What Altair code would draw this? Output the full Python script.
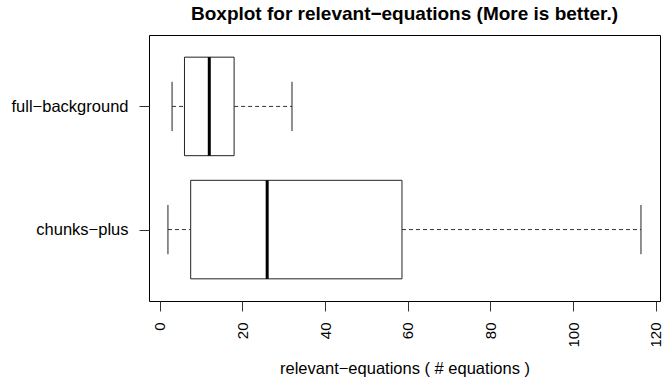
import altair as alt
import pandas as pd

# Five-number summaries per group (values in # equations)
groups = ["full−background", "chunks−plus"]
whisker_low = [3, 2]
q1 = [6, 7.5]
median = [12, 26]
q3 = [18, 58.6]
whisker_high = [32, 116.4]

n = len(groups)
df = pd.DataFrame({
    "group": groups,
    "pos": [n - i for i in range(n)],
    "lo": whisker_low,
    "q1": q1,
    "med": median,
    "q3": q3,
    "hi": whisker_high,
})
df["box_bottom"] = df["pos"] - 0.4
df["box_top"] = df["pos"] + 0.4
df["cap_bottom"] = df["pos"] - 0.2
df["cap_top"] = df["pos"] + 0.2

label_map = " : ".join(
    f"datum.value == {n - i} ? '{g}'" for i, g in enumerate(groups)
) + " : ''"

FONT = "Liberation Sans"

x_scale = alt.Scale(domain=[-2.58, 121.0], nice=False, zero=False)
y_scale = alt.Scale(domain=[0.42, 2.58], nice=False, zero=False)

x_axis = alt.Axis(
    values=[0, 20, 40, 60, 80, 100, 120],
    title="relevant−equations ( # equations )",
    titleFont=FONT, titleFontSize=16.5, titleFontWeight="normal",
    titleColor="black", titleY=72, titleBaseline="alphabetic",
    labelFont=FONT, labelFontSize=15, labelColor="black",
    labelAngle=270, labelPadding=11,
    tickSize=10, tickColor="#333333", domain=False, grid=False,
)
y_axis = alt.Axis(
    values=list(range(1, n + 1)),
    labelExpr=label_map,
    title=None,
    labelFont=FONT, labelFontSize=16.5, labelColor="black",
    labelPadding=11,
    tickSize=10, tickColor="#333333", domain=False, grid=False,
)

base = alt.Chart(df)

whisker_lo = base.mark_rule(color="#333333", strokeWidth=1, strokeDash=[4, 3]).encode(
    x=alt.X("lo:Q", scale=x_scale, axis=x_axis),
    x2="q1:Q",
    y=alt.Y("pos:Q", scale=y_scale, axis=y_axis),
)
whisker_hi = base.mark_rule(color="#333333", strokeWidth=1, strokeDash=[4, 3]).encode(
    x=alt.X("q3:Q", scale=x_scale),
    x2="hi:Q",
    y=alt.Y("pos:Q", scale=y_scale),
)
cap_lo = base.mark_rule(color="#222222", strokeWidth=1).encode(
    x=alt.X("lo:Q", scale=x_scale),
    y=alt.Y("cap_bottom:Q", scale=y_scale),
    y2="cap_top:Q",
)
cap_hi = base.mark_rule(color="#222222", strokeWidth=1).encode(
    x=alt.X("hi:Q", scale=x_scale),
    y=alt.Y("cap_bottom:Q", scale=y_scale),
    y2="cap_top:Q",
)
boxes = base.mark_rect(fill="white", stroke="#222222", strokeWidth=1).encode(
    x=alt.X("q1:Q", scale=x_scale),
    x2="q3:Q",
    y=alt.Y("box_bottom:Q", scale=y_scale),
    y2="box_top:Q",
)
medians = base.mark_rule(color="black", strokeWidth=3).encode(
    x=alt.X("med:Q", scale=x_scale),
    y=alt.Y("box_bottom:Q", scale=y_scale),
    y2="box_top:Q",
)

chart = alt.layer(
    whisker_lo, whisker_hi, cap_lo, cap_hi, boxes, medians
).properties(
    width=511,
    height=266,
    title=alt.TitleParams(
        "Boxplot for relevant−equations (More is better.)",
        font=FONT, fontSize=19, fontWeight="bold", color="black",
        anchor="middle", offset=11,
    ),
    autosize=alt.AutoSizeParams(type="none"),
    padding={"left": 149, "top": 35, "right": 6, "bottom": 82},
    background="white",
).configure_view(
    stroke="black", strokeWidth=1, fill="white"
)

chart.save("out.html", embed_options={"renderer": "svg", "actions": False})
